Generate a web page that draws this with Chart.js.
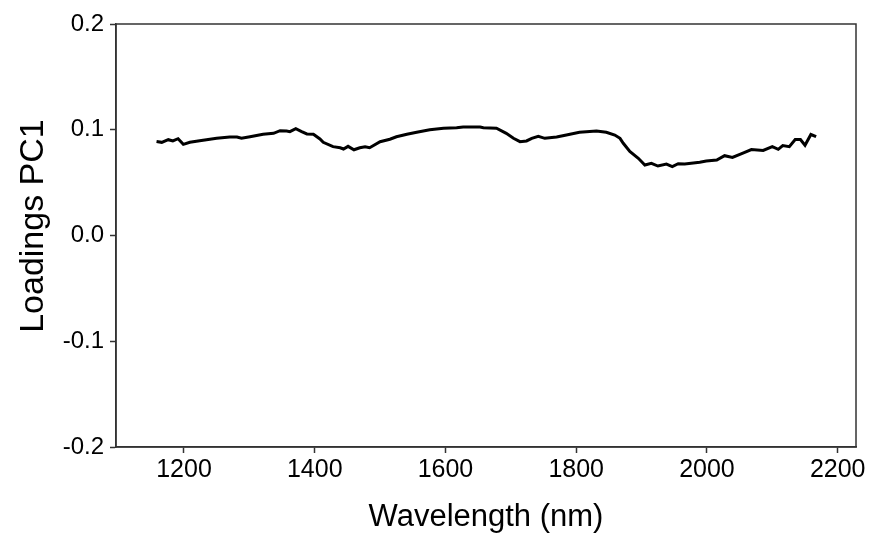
<!DOCTYPE html>
<html>
<head>
<meta charset="utf-8">
<title>Loadings PC1</title>
<script src="https://cdn.jsdelivr.net/npm/chart.js@4.4.1/dist/chart.umd.min.js"></script>
<style>
  html, body { margin: 0; padding: 0; background: #fff; }
  #wrap { width: 870px; height: 536px; }
</style>
</head>
<body>
<div id="wrap"><canvas id="chart" width="870" height="536"></canvas></div>
<script>
// PC1 loadings
const wavelengths = [
  1158, 1166, 1176, 1183, 1191, 1199, 1209, 1224, 1250, 1270,
  1281, 1288, 1301, 1321, 1337, 1347, 1357, 1362, 1371, 1380,
  1388, 1398, 1408, 1413, 1428, 1439, 1444, 1451, 1460, 1469,
  1477, 1484, 1500, 1515, 1525, 1541, 1556, 1576, 1597, 1617,
  1627, 1653, 1658, 1678, 1693, 1704, 1714, 1724, 1732, 1742,
  1752, 1770, 1785, 1805, 1831, 1846, 1859, 1867, 1872, 1882,
  1895, 1905, 1915, 1925, 1938, 1947, 1956, 1966, 1989, 1999,
  2015, 2027, 2039, 2055, 2068, 2086, 2100, 2109, 2116, 2126,
  2135, 2143, 2150, 2159, 2167
];
const loadings = [
  0.0889, 0.0881, 0.0906, 0.0894, 0.0915, 0.0862, 0.0881, 0.0896, 0.0919, 0.0931,
  0.0931, 0.0919, 0.0934, 0.0957, 0.0966, 0.0991, 0.0988, 0.0982, 0.1010, 0.0982,
  0.0960, 0.0957, 0.0913, 0.0881, 0.0840, 0.0830, 0.0818, 0.0843, 0.0811, 0.0830,
  0.0840, 0.0830, 0.0887, 0.0910, 0.0934, 0.0957, 0.0976, 0.1000, 0.1014, 0.1019,
  0.1026, 0.1026, 0.1019, 0.1014, 0.0966, 0.0919, 0.0887, 0.0894, 0.0919, 0.0938,
  0.0919, 0.0931, 0.0950, 0.0976, 0.0988, 0.0976, 0.0950, 0.0919, 0.0872, 0.0794,
  0.0730, 0.0667, 0.0683, 0.0657, 0.0676, 0.0652, 0.0679, 0.0676, 0.0692, 0.0704,
  0.0714, 0.0755, 0.0739, 0.0780, 0.0813, 0.0804, 0.0840, 0.0815, 0.0851, 0.0840,
  0.0908, 0.0908, 0.0853, 0.0955, 0.0934
];
const xTicks = [1200, 1400, 1600, 1800, 2000, 2200];
const yTicks = [-0.2, -0.1, 0.0, 0.1, 0.2];

const AXIS_COLOR = '#333';
const FONT = '"Liberation Sans", Arial, sans-serif';

// box around the plot area (top and right edges too)
const frame = {
  id: 'frame',
  afterDraw(chart) {
    const { ctx, chartArea: a } = chart;
    ctx.save();
    ctx.strokeStyle = AXIS_COLOR;
    ctx.lineWidth = 1.5;
    ctx.strokeRect(a.left, a.top, a.right - a.left, a.bottom - a.top);
    ctx.restore();
  }
};

new Chart(document.getElementById('chart'), {
  type: 'line',
  data: {
    datasets: [{
      data: wavelengths.map((w, i) => ({ x: w, y: loadings[i] })),
      borderColor: '#000',
      borderWidth: 3,
      pointRadius: 0,
      tension: 0,
      fill: false
    }]
  },
  options: {
    responsive: false,
    animation: false,
    layout: { padding: { top: 24, right: 14, left: 0, bottom: 0 } },
    plugins: { legend: { display: false }, tooltip: { enabled: false } },
    scales: {
      x: {
        type: 'linear',
        min: 1096,
        max: 2228,
        afterBuildTicks: s => { s.ticks = xTicks.map(v => ({ value: v })); },
        afterFit: s => { s.height = 89; },
        border: { display: true, color: AXIS_COLOR, width: 1.5 },
        grid: { drawOnChartArea: false, drawTicks: true, tickLength: 6, color: AXIS_COLOR, tickWidth: 1.5 },
        ticks: { color: '#000', font: { family: FONT, size: 25 }, padding: 2, maxRotation: 0,
                 callback: v => String(v) },
        title: { display: true, text: 'Wavelength (nm)', color: '#000',
                 font: { family: FONT, size: 31 }, padding: { top: 2, bottom: 0 } }
      },
      y: {
        min: -0.2,
        max: 0.2,
        afterBuildTicks: s => { s.ticks = yTicks.map(v => ({ value: v })); },
        afterFit: s => { s.width = 116; },
        border: { display: true, color: AXIS_COLOR, width: 1.5 },
        grid: { drawOnChartArea: false, drawTicks: true, tickLength: 6, color: AXIS_COLOR, tickWidth: 1.5 },
        ticks: { color: '#000', font: { family: FONT, size: 24 }, padding: 6,
                 callback: v => v.toFixed(1) },
        // leading spaces nudge the rotated title a little upward, as in the reference
        title: { display: true, text: '  Loadings PC1', color: '#000',
                 font: { family: FONT, size: 34 }, padding: { top: 13, bottom: 0 } }
      }
    }
  },
  plugins: [frame]
});
</script>
</body>
</html>
